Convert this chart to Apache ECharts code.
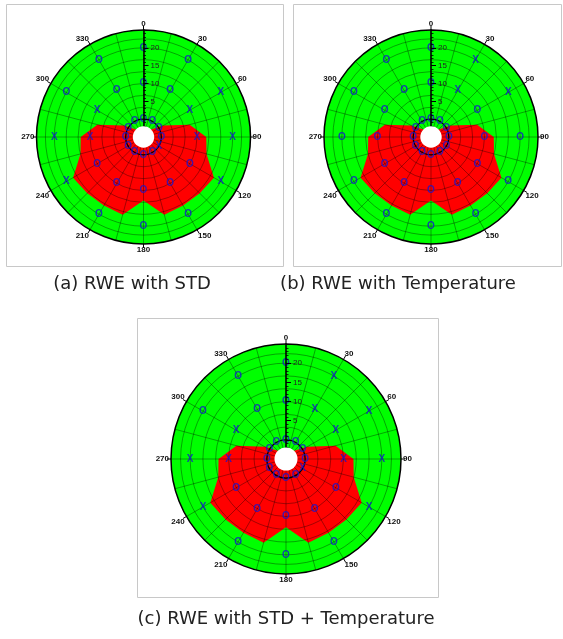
<!DOCTYPE html>
<html><head><meta charset="utf-8">
<script src="https://cdn.jsdelivr.net/npm/echarts@6/dist/echarts.min.js"></script>
<style>html,body{margin:0;padding:0;background:#fff}#c{width:563px;height:639px}</style>
</head><body><div id="c"></div>
<script>
// ---------- data ----------
const angleTicks = [0, 30, 60, 90, 120, 150, 180, 210, 240, 270, 300, 330];
const radiusLabels = [5, 10, 15, 20];
const markerAngles = [0, 30, 60, 90, 120, 150, 180, 210, 240, 270, 300, 330];
const markerRadii = [0, 10, 20];
// panel (a) RWE with STD
const aRing0  = ['O','O','O','O','X','O','O','O','O','O','O','O'];
const aRing10 = ['O','O','X','X','O','O','O','O','O','X','X','O'];
const aRing20 = ['O','O','X','X','X','O','O','O','X','X','O','O'];
// panel (b) RWE with Temperature
const bRing0  = ['O','O','O','O','O','O','O','O','O','O','O','O'];
const bRing10 = ['O','X','O','O','O','O','O','O','O','O','O','O'];
const bRing20 = ['O','X','X','O','O','O','O','O','O','O','O','O'];
// panel (c) RWE with STD + Temperature
const cRing0  = ['O','O','O','O','X','O','O','O','O','O','O','O'];
const cRing10 = ['O','X','X','X','O','O','O','O','O','X','X','O'];
const cRing20 = ['O','X','X','X','X','O','O','O','X','X','O','O'];
// red region boundary (angle, radius value)
const redAngles = [45, 60, 75, 90, 105, 120, 135, 150, 165, 180, 195, 210, 225, 240, 255, 270, 285, 300, 315];
const redValues = [-2, 1.4, 8.4, 12.6, 13.3, 17.8, 17.3, 17.2, 17.6, 12.8, 17.6, 17.2, 17.3, 17.8, 13.3, 12.6, 8.4, 1.4, -2];
// grid
const gridRings = [3.33, 6.67, 10, 13.33, 16.67, 20, 22.5];
const gridSpokes = [0,15,30,45,60,75,90,105,120,135,150,165,180,195,210,225,240,255,270,285,300,315,330,345];
const holeValue = -2;
const innerRingValue = 0;
const radiusMin = -5, radiusMax = 25;
const captions = ['(a) RWE with STD', '(b) RWE with Temperature', '(c) RWE with STD + Temperature'];

// ---------- layout / style ----------
const layout = [
  {center: [143.5, 137], radius: 107, rings: [aRing0, aRing10, aRing20]},
  {center: [431, 137], radius: 107, rings: [bRing0, bRing10, bRing20]},
  {center: [286, 459], radius: 115, rings: [cRing0, cRing10, cRing20]}
];
const GREEN = '#00ff00', RED = '#ff0000', BLUE = '#1515d0';
const GRID = 'rgba(0,0,0,0.5)';

function fillItem(params, api) {
  const cs = params.coordSys;
  const pts = redAngles.map((a, i) => { const p = api.coord([redValues[i], a]); return [p[0], p[1]]; });
  return {type: 'group', children: [
    {type: 'circle', shape: {cx: cs.cx, cy: cs.cy, r: cs.r}, style: {fill: GREEN}},
    {type: 'polygon', shape: {points: pts}, style: {fill: RED}}
  ]};
}
function gridItem(params, api) {
  const cs = params.coordSys;
  const children = [];
  gridRings.forEach(v => {
    const r = api.coord([v, 0])[2];
    children.push({type: 'circle', shape: {cx: cs.cx, cy: cs.cy, r: r}, style: {fill: 'none', stroke: GRID, lineWidth: 0.7}});
  });
  gridSpokes.forEach(a => {
    const p0 = api.coord([holeValue, a]), p1 = api.coord([radiusMax, a]);
    children.push({type: 'line', shape: {x1: p0[0], y1: p0[1], x2: p1[0], y2: p1[1]}, style: {stroke: GRID, lineWidth: 0.7}});
  });
  const ri = api.coord([innerRingValue, 0])[2];
  children.push({type: 'circle', shape: {cx: cs.cx, cy: cs.cy, r: ri}, style: {fill: 'none', stroke: '#000', lineWidth: 1.3}});
  return {type: 'group', children};
}
function holeItem(params, api) {
  const cs = params.coordSys;
  const r = api.coord([holeValue, 0])[2];
  return {type: 'circle', shape: {cx: cs.cx, cy: cs.cy, r: r}, style: {fill: '#ffffff'}};
}

const polar = [], angleAxis = [], radiusAxis = [], series = [];
layout.forEach((L, i) => {
  polar.push({center: L.center, radius: L.radius});
  angleAxis.push({
    polarIndex: i, type: 'value', min: 0, max: 360, interval: 30, startAngle: 90, clockwise: true, z: 10,
    axisLine: {show: true, lineStyle: {color: '#000', width: 1.5}},
    axisTick: {show: true, length: 4, lineStyle: {color: '#000', width: 1}},
    axisLabel: {show: true, margin: 2, fontSize: 8, fontWeight: 'bold', color: '#111', fontFamily: 'Liberation Sans',
      formatter: v => angleTicks.includes(v) ? String(v) : ''},
    splitLine: {show: false}, splitArea: {show: false}
  });
  radiusAxis.push({
    polarIndex: i, type: 'value', min: radiusMin, max: radiusMax, interval: 5, z: 10,
    axisLine: {show: true, lineStyle: {color: '#000', width: 1.5}},
    axisTick: {show: true, length: -5, lineStyle: {color: '#000', width: 1}},
    minorTick: {show: true, splitNumber: 5, length: -2.5, lineStyle: {color: '#000', width: 0.8}},
    axisLabel: {show: true, margin: -7, align: 'left', fontSize: 8, color: '#222', fontFamily: 'Liberation Sans',
      formatter: v => radiusLabels.includes(v) ? String(v) : ''},
    splitLine: {show: false}, splitArea: {show: false}
  });
  series.push({type: 'custom', coordinateSystem: 'polar', polarIndex: i, z: -3, silent: true, clip: false,
    data: [[0, 0]], renderItem: fillItem});
  series.push({type: 'custom', coordinateSystem: 'polar', polarIndex: i, z: -2, silent: true, clip: false,
    data: [[0, 0]], renderItem: gridItem});
  series.push({type: 'custom', coordinateSystem: 'polar', polarIndex: i, z: 20, silent: true, clip: false,
    data: [[0, 0]], renderItem: holeItem});
  const pts = [];
  markerRadii.forEach((rv, k) => {
    markerAngles.forEach((a, j) => pts.push({value: [rv, a], name: L.rings[k][j]}));
  });
  series.push({type: 'scatter', coordinateSystem: 'polar', polarIndex: i, z: 5, silent: true,
    symbol: 'circle', symbolSize: 1, itemStyle: {color: 'rgba(0,0,0,0)'},
    label: {show: true, position: 'inside', formatter: '{b}', color: BLUE, fontSize: 10, fontWeight: 'bold', fontFamily: 'Liberation Sans'},
    data: pts});
});

const frames = [[6.5, 4.5, 277, 262], [293.5, 4.5, 268, 262], [137.5, 318.5, 301, 279]];
const capPos = [[132, 284], [398, 284], [286, 619]];
const graphic = [];
frames.forEach(f => graphic.push({type: 'rect', shape: {x: f[0], y: f[1], width: f[2], height: f[3]},
  style: {fill: 'none', stroke: '#c8c8c8', lineWidth: 1}, z: -10, silent: true}));
captions.forEach((t, i) => graphic.push({type: 'text', x: capPos[i][0], y: capPos[i][1], silent: true,
  style: {text: t, fontSize: 18, fontFamily: 'DejaVu Sans', fill: '#222',
    align: 'center', verticalAlign: 'middle', textAlign: 'center', textVerticalAlign: 'middle'}}));

const chart = echarts.init(document.getElementById('c'));
chart.setOption({animation: false, backgroundColor: '#fff', polar, angleAxis, radiusAxis, series, graphic});
</script></body></html>
